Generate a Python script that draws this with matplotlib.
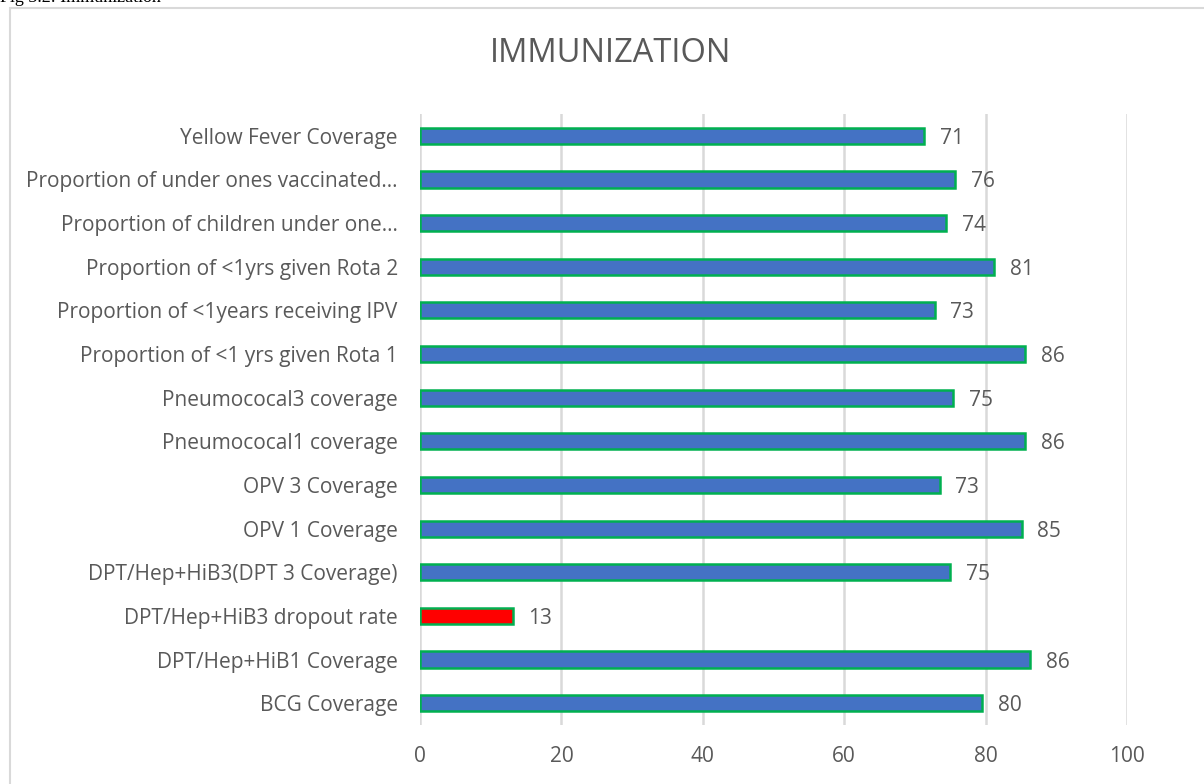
import matplotlib.pyplot as plt
from matplotlib.patches import Rectangle

# data, bottom to top as drawn
categories = [
    'BCG Coverage',
    'DPT/Hep+HiB1 Coverage',
    'DPT/Hep+HiB3 dropout rate',
    'DPT/Hep+HiB3(DPT 3 Coverage)',
    'OPV 1 Coverage',
    'OPV 3 Coverage',
    'Pneumococal1 coverage',
    'Pneumococal3 coverage',
    'Proportion of <1 yrs given Rota 1',
    'Proportion of <1years receiving IPV',
    'Proportion of <1yrs given Rota 2',
    'Proportion of children under one...',
    'Proportion of under ones vaccinated...',
    'Yellow Fever Coverage',
]
values = [79.5, 86.3, 13.1, 75.0, 85.1, 73.5, 85.6, 75.4, 85.6, 72.8, 81.2, 74.4, 75.7, 71.3]
labels = ['80', '86', '13', '75', '85', '73', '86', '75', '86', '73', '81', '74', '76', '71']
xticks = [0, 20, 40, 60, 80, 100]

blue = '#4472C4'
red = '#FF0000'
green = '#00B050'
grey_text = '#595959'

plt.rcParams['font.family'] = ['Open Sans', 'DejaVu Sans']

fig = plt.figure(figsize=(12.04, 7.84), dpi=100)

# chart frame (runs off the right and bottom edges)
fig.patches.append(Rectangle((10 / 1204, -0.1), 1.2, 1 - 8 / 784 + 0.1,
                             transform=fig.transFigure, fill=False,
                             edgecolor='#D9D9D9', linewidth=1.5))

# caption above the chart, cut by the top edge as in the scan
fig.text(0.0, 1 - 6 / 784, 'Fig 3.2: Immunization', family='Liberation Serif',
         fontsize=13, va='bottom', ha='left', color='black')

ax = fig.add_axes([420 / 1204, 1 - 725 / 784, 707 / 1204, 611 / 784])

colors = [red if 'dropout' in c else blue for c in categories]
pos = range(len(categories))
ax.barh(pos, values, height=0.37, color=colors, edgecolor=green, linewidth=1.8, zorder=3)

for i, (v, l) in enumerate(zip(values, labels)):
    ax.text(v + 2.2, i, l, va='center_baseline', ha='left', fontsize=15, color=grey_text)

ax.set_xlim(0, 100)
ax.set_ylim(-0.5, len(categories) - 0.5)
ax.set_xticks(xticks)
ax.set_yticks(list(pos))
ax.set_yticklabels(categories)
ax.tick_params(axis='both', length=0, labelsize=15, labelcolor=grey_text)
ax.tick_params(axis='x', pad=15)
ax.tick_params(axis='y', pad=16)
ax.grid(axis='x', color='#D9D9D9', linewidth=1.8, zorder=0)
for s in ax.spines.values():
    s.set_visible(False)

fig.text(611 / 1204, 1 - 53 / 784, 'IMMUNIZATION', ha='center', va='center',
         fontsize=23.5, color=grey_text)

fig.savefig('out.png', dpi=100)
